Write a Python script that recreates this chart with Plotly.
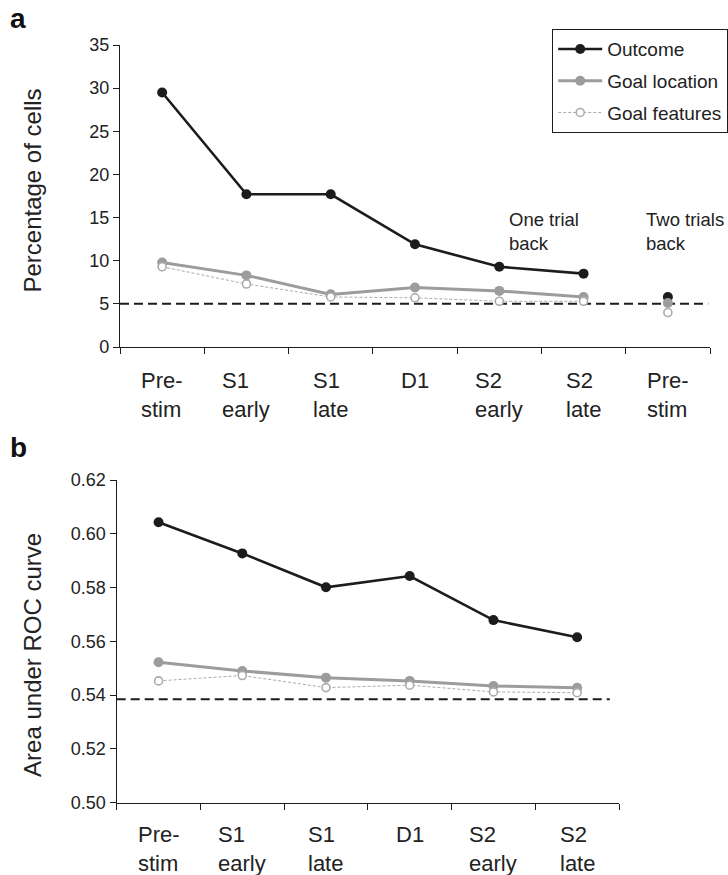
import plotly.graph_objects as go

W, H = 728, 875
FONT = "Liberation Sans, Arial, Helvetica, sans-serif"

# ---------- data ----------
labels_a = ["Pre-<br>stim", "S1<br>early", "S1<br>late", "D1", "S2<br>early", "S2<br>late", "Pre-<br>stim"]
labels_b = ["Pre-<br>stim", "S1<br>early", "S1<br>late", "D1", "S2<br>early", "S2<br>late"]

# Panel a: percentage of cells (one trial back: first six epochs; two trials back: last)
outcome_a = [29.5, 17.7, 17.7, 11.9, 9.3, 8.5]
location_a = [9.8, 8.3, 6.1, 6.9, 6.5, 5.8]
features_a = [9.3, 7.3, 5.8, 5.7, 5.3, 5.3]
outcome_a2 = [5.8]
location_a2 = [5.1]
features_a2 = [4.0]
chance_a = 5

# Panel b: area under ROC curve
outcome_b = [0.6043, 0.5927, 0.5801, 0.5843, 0.5679, 0.5615]
location_b = [0.5522, 0.5490, 0.5465, 0.5453, 0.5434, 0.5427]
features_b = [0.5453, 0.5473, 0.5428, 0.5437, 0.5412, 0.5409]
chance_b = 0.5385

BLACK = "#1c1c1c"
GRAY = "#9c9c9c"
LIGHT = "#ababab"

def px_x(p):
    return p / W

def px_y(p):
    return 1 - p / H

fig = go.Figure()
idx_a = list(range(6))
idx_b = list(range(6))

def add_series(x, y, name, style, xa, ya, showlegend, mode="lines+markers"):
    if style == "outcome":
        line = dict(color=BLACK, width=2.6)
        marker = dict(color=BLACK, size=10, symbol="circle", line=dict(width=0))
    elif style == "location":
        line = dict(color=GRAY, width=3)
        marker = dict(color=GRAY, size=10, symbol="circle", line=dict(width=0))
    else:
        line = dict(color=LIGHT, width=1, dash="3px,2px")
        marker = dict(color="white", size=8, symbol="circle", line=dict(color=LIGHT, width=1.6))
    fig.add_trace(go.Scatter(x=x, y=y, name=name, mode=mode, line=line, marker=marker,
                             xaxis=xa, yaxis=ya, showlegend=showlegend,
                             legendgroup=name, hoverinfo="skip"))

# chance-level dashed lines
fig.add_trace(go.Scatter(x=[-0.5, 6.48], y=[chance_a, chance_a], mode="lines",
                         line=dict(color=BLACK, width=2, dash="9px,5px"),
                         xaxis="x", yaxis="y", showlegend=False, hoverinfo="skip"))
fig.add_trace(go.Scatter(x=[-0.5, 5.39], y=[chance_b, chance_b], mode="lines",
                         line=dict(color=BLACK, width=2, dash="9px,5px"),
                         xaxis="x2", yaxis="y2", showlegend=False, hoverinfo="skip"))

add_series(idx_a, outcome_a, "Outcome", "outcome", "x", "y", True)
add_series(idx_a, location_a, "Goal location", "location", "x", "y", True)
add_series(idx_a, features_a, "Goal features", "features", "x", "y", True)
add_series([6], outcome_a2, "Outcome", "outcome", "x", "y", False, mode="markers")
add_series([6], location_a2, "Goal location", "location", "x", "y", False, mode="markers")
add_series([6], features_a2, "Goal features", "features", "x", "y", False, mode="markers")
add_series(idx_b, outcome_b, "Outcome", "outcome", "x2", "y2", False)
add_series(idx_b, location_b, "Goal location", "location", "x2", "y2", False)
add_series(idx_b, features_b, "Goal features", "features", "x2", "y2", False)

axis_common = dict(showline=True, linecolor=BLACK, linewidth=1.4, ticks="outside",
                   ticklen=6, tickwidth=1.2, tickcolor=BLACK, showgrid=False,
                   zeroline=False, automargin=False,
                   tickfont=dict(family=FONT, size=18, color="#222"))

fig.update_layout(
    template="none",
    width=W, height=H,
    margin=dict(l=0, r=0, t=0, b=0, pad=0, autoexpand=False),
    paper_bgcolor="white", plot_bgcolor="white",
    font=dict(family=FONT, color="#222"),
    xaxis=dict(domain=[px_x(120), px_x(710)], range=[-0.5, 6.5], anchor="y",
               tickvals=[i - 0.5 for i in range(8)], showticklabels=False, **axis_common),
    yaxis=dict(domain=[px_y(347), px_y(45)], range=[0, 35], anchor="x",
               tickvals=[0, 5, 10, 15, 20, 25, 30, 35], **axis_common),
    xaxis2=dict(domain=[px_x(116.7), px_x(619)], range=[-0.5, 5.5], anchor="y2",
                tickvals=[i - 0.5 for i in range(7)], showticklabels=False, **axis_common),
    yaxis2=dict(domain=[px_y(802.7), px_y(480)], range=[0.50, 0.62], anchor="x2",
                tickvals=[0.50, 0.52, 0.54, 0.56, 0.58, 0.60, 0.62], tickformat=".2f",
                **axis_common),
    legend=dict(x=1, y=px_y(29), xanchor="right", yanchor="top",
                bordercolor=BLACK, borderwidth=1.2, bgcolor="white",
                font=dict(family=FONT, size=19, color="#222"),
                traceorder="grouped", tracegroupgap=4, itemwidth=44),
    showlegend=True,
)

annotations = []
for i, lab in enumerate(labels_a):
    annotations.append(dict(x=i, y=0, xref="x", yref="y domain", yanchor="top", xanchor="center",
                            yshift=-19, text=lab, align="left", showarrow=False,
                            font=dict(family=FONT, size=22, color="#222")))
for i, lab in enumerate(labels_b):
    annotations.append(dict(x=i, y=0, xref="x2", yref="y2 domain", yanchor="top", xanchor="center",
                            yshift=-17, text=lab, align="left", showarrow=False,
                            font=dict(family=FONT, size=22, color="#222")))

annotations += [
    dict(x=px_x(33), y=0.518, xref="paper", yref="y domain", text="Percentage of cells",
         textangle=-90, showarrow=False, xanchor="center", yanchor="middle",
         font=dict(family=FONT, size=24, color="#222")),
    dict(x=px_x(33), y=0.458, xref="paper", yref="y2 domain", text="Area under ROC curve",
         textangle=-90, showarrow=False, xanchor="center", yanchor="middle",
         font=dict(family=FONT, size=24, color="#222")),
    dict(x=px_x(8), y=px_y(19), xref="paper", yref="paper", text="<b>a</b>",
         showarrow=False, xanchor="left", yanchor="middle",
         font=dict(family=FONT, size=28, color="#111")),
    dict(x=px_x(8), y=px_y(447), xref="paper", yref="paper", text="<b>b</b>",
         showarrow=False, xanchor="left", yanchor="middle",
         font=dict(family=FONT, size=28, color="#111")),
    dict(x=px_x(507), y=px_y(231), xref="paper", yref="paper", text="One trial<br>back",
         showarrow=False, xanchor="left", yanchor="middle", align="left",
         font=dict(family=FONT, size=18.5, color="#222")),
    dict(x=px_x(644), y=px_y(231), xref="paper", yref="paper", text="Two trials<br>back",
         showarrow=False, xanchor="left", yanchor="middle", align="left",
         font=dict(family=FONT, size=18.5, color="#222")),
]
fig.update_layout(annotations=annotations)

fig.write_html("out.html")
